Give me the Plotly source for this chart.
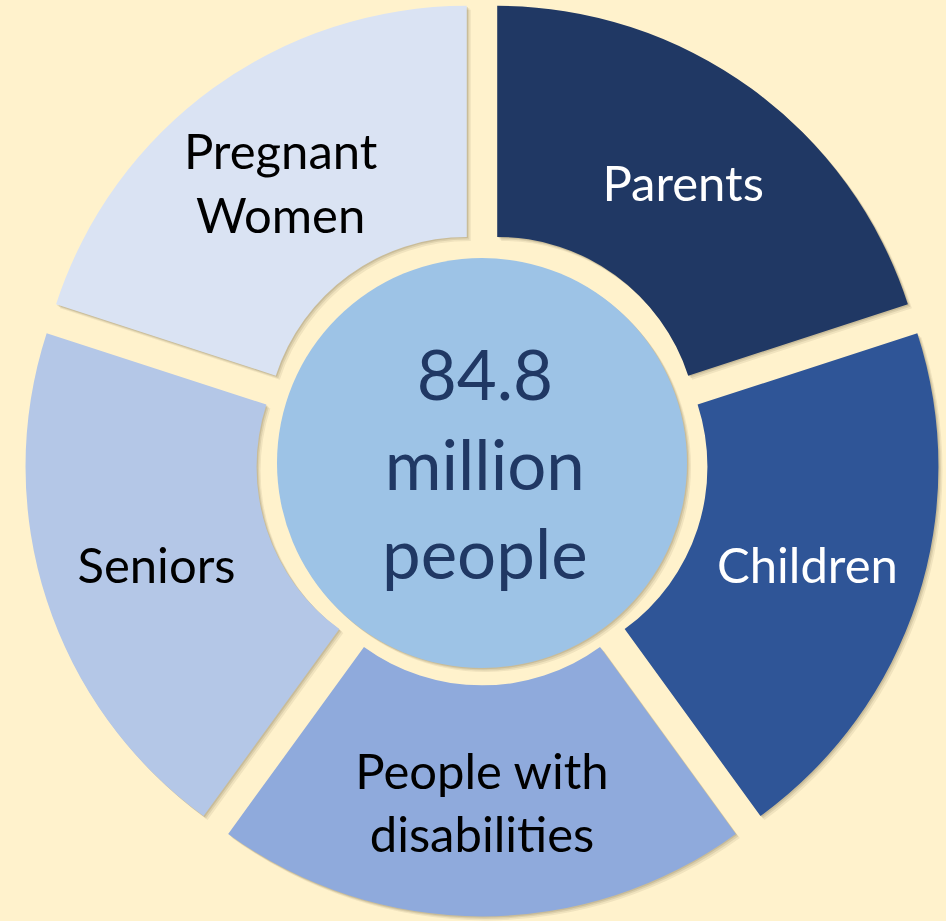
import plotly.graph_objects as go

# ---- data ----
groups = ["Parents", "Children", "People with disabilities", "Seniors", "Pregnant Women"]
label_text = ["Parents", "Children", "People with<br>disabilities", "Seniors", "Pregnant<br>Women"]
shares = [1, 1, 1, 1, 1]
slice_colors = ["#203864", "#2F5597", "#8FAADC", "#B4C7E7", "#DAE3F3"]
text_colors = ["#FFFFFF", "#FFFFFF", "#000000", "#000000", "#000000"]
center_text = "84.8<br>million<br>people"

W, H = 946, 921
BG = "#FFF2CC"
PULL = 0.06
HOLE = 0.465
XDOM = [0.025, 0.994]
YDOM = [0.005, 0.999]

fig = go.Figure()

# soft drop shadows (stacked offset copies)
for k, alpha in [(4, 0.08), (2.5, 0.1), (1.2, 0.12)]:
    dx = k / W
    dy = k / H
    fig.add_trace(go.Pie(
        values=shares, labels=groups, sort=False, direction="clockwise", rotation=0,
        hole=HOLE, pull=[PULL] * len(shares),
        marker=dict(colors=[f"rgba(60,50,20,{alpha})"] * len(shares), line=dict(width=0)),
        textinfo="none", hoverinfo="skip", showlegend=False,
        domain=dict(x=[XDOM[0] + dx, XDOM[1] + dx], y=[YDOM[0] - dy, YDOM[1] - dy]),
    ))

fig.add_trace(go.Pie(
    values=shares, labels=groups, text=label_text, sort=False,
    direction="clockwise", rotation=0, hole=HOLE, pull=[PULL] * len(shares),
    marker=dict(colors=slice_colors, line=dict(width=0)),
    textinfo="text", textposition="inside", insidetextorientation="horizontal",
    textfont=dict(family="Lato", size=49, color=text_colors),
    showlegend=False,
    domain=dict(x=XDOM, y=YDOM),
))

# centre disc with shadow
cxp, cyp, rp = 482, 463, 205
shapes = []
for k, alpha in [(4, 0.08), (2.5, 0.1), (1.2, 0.12)]:
    shapes.append(dict(type="circle", xref="paper", yref="paper", layer="below",
                       x0=(cxp - rp + k) / W, x1=(cxp + rp + k) / W,
                       y0=1 - (cyp + rp + k) / H, y1=1 - (cyp - rp + k) / H,
                       fillcolor=f"rgba(60,50,20,{alpha})", line=dict(width=0)))
shapes.append(dict(type="circle", xref="paper", yref="paper", layer="below",
                   x0=(cxp - rp) / W, x1=(cxp + rp) / W,
                   y0=1 - (cyp + rp) / H, y1=1 - (cyp - rp) / H,
                   fillcolor="#9DC3E6", line=dict(width=0)))

fig.update_layout(
    width=W, height=H,
    margin=dict(l=0, r=0, t=0, b=0),
    paper_bgcolor=BG, plot_bgcolor=BG,
    shapes=shapes,
    annotations=[dict(text=center_text, x=(cxp + 3) / W, y=1 - cyp / H, xref="paper", yref="paper",
                      showarrow=False, xanchor="center", yanchor="middle",
                      font=dict(family="Lato", size=69, color="#203864"))],
)

fig.write_html("out.html")
